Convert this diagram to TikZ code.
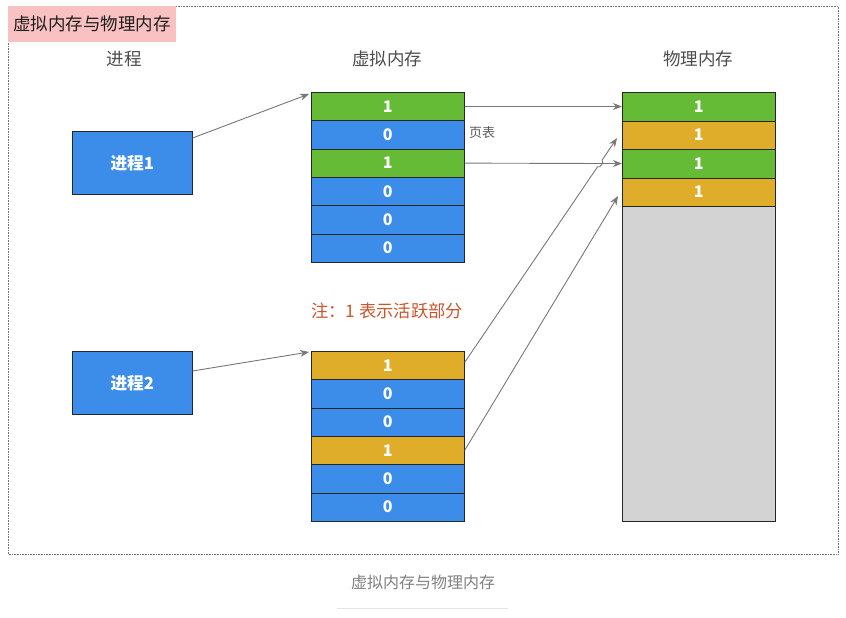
\documentclass[tikz,border=0pt]{standalone}
\usepackage{fontspec}
\setmainfont{Noto Sans CJK SC}
\usetikzlibrary{arrows.meta,calc}
\definecolor{cblue}{HTML}{3B8DE9}
\definecolor{cgreen}{HTML}{66BB36}
\definecolor{corange}{HTML}{E0AD2B}
\definecolor{cgray}{HTML}{D3D3D3}
\definecolor{cpink}{HTML}{F9C1C1}
\definecolor{cnote}{HTML}{C9552B}
\definecolor{carrow}{HTML}{777777}
\begin{document}
\begin{tikzpicture}[x=1pt,y=-1pt,
  cell/.style={draw=black!85, line width=0.6pt, minimum width=153pt, minimum height=28.33pt, inner sep=0pt, text=white, font=\fontsize{16}{16}\selectfont\bfseries, anchor=north west},
  pcell/.style={cell, minimum height=28.5pt},
  proc/.style={draw=black!85, line width=0.6pt, fill=cblue, minimum width=120pt, minimum height=63pt, inner sep=0pt, text=white, font=\fontsize{16.7}{16.7}\selectfont\bfseries, anchor=north west},
  head/.style={text=black!70, font=\fontsize{17.5}{17.5}\selectfont},
  arr/.style={draw=carrow, line width=0.9pt, -{Stealth[length=9pt,width=7pt]}}]
\useasboundingbox (0,0) rectangle (846,618);
% frame
\draw[densely dotted, black!55, line width=0.6pt] (8,6) rectangle (838,554);
\node[fill=cpink, minimum width=168pt, minimum height=36pt, inner sep=0pt, anchor=north west, text=black!88, font=\fontsize{17.5}{17.5}\selectfont] (title) at (8,6) {虚拟内存与物理内存};
% headers
\node[head] (h1) at (124,59) {进程};
\node[head] (h2) at (387,59) {虚拟内存};
\node[head] (h3) at (698,59) {物理内存};
% processes
\node[proc] (p1) at (72,131) {进程1};
\node[proc] (p2) at (72,351) {进程2};
% virtual memory 1
\foreach \i/\c/\t in {0/cgreen/1,1/cblue/0,2/cgreen/1,3/cblue/0,4/cblue/0,5/cblue/0}
  \node[cell, fill=\c] (a\i) at (311,{92+\i*28.33}) {\t};
% virtual memory 2
\foreach \i/\c/\t in {0/corange/1,1/cblue/0,2/cblue/0,3/corange/1,4/cblue/0,5/cblue/0}
  \node[cell, fill=\c] (b\i) at (311,{351+\i*28.33}) {\t};
% physical memory
\node[draw=black!85, line width=0.6pt, fill=cgray, minimum width=153pt, minimum height=315pt, inner sep=0pt, anchor=north west] (mfree) at (622,206) {};
\foreach \i/\c in {0/cgreen,1/corange,2/cgreen,3/corange}
  \node[pcell, fill=\c] (m\i) at (622,{92+\i*28.5}) {1};
% labels
\node[text=black!65, font=\fontsize{13}{13}\selectfont] (pt) at (482,133) {页表};
\node[text=cnote, font=\fontsize{17.3}{17.3}\selectfont] (note) at (387,311) {注：1 表示活跃部分};
% caption
\node[text=black!50, font=\fontsize{16}{16}\selectfont] (cap) at (423,582) {虚拟内存与物理内存};
\coordinate (ul) at (337,608);
\coordinate (ur) at (508,608);
\draw[black!10, line width=0.6pt] (ul) -- (ur);
% arrows
\draw[arr] ($(p1.north east)+(0,7)$) -- ($(a0.north west)+(-2,2)$);
\draw[arr] ($(p2.north east)+(0,20)$) -- ($(b0.north west)+(-2,1)$);
\draw[arr] (a0.east) -- (m0.west);
\draw[arr] (a2.east) -- (m2.west);
\coordinate (s1) at ($(b0.east)+(0,-3)$);
\coordinate (e1) at ($(m1.west)+(-5,3)$);
\coordinate (x1) at (intersection of s1--e1 and a2.east--m2.west);
\draw[arr] (s1) -- ($(x1)!4pt!(s1)$) to[bend right=90] ($(x1)!4pt!(e1)$) -- (e1);
\draw[arr] (b3.east) -- ($(m3.west)+(-4,4)$);
\end{tikzpicture}
\end{document}
